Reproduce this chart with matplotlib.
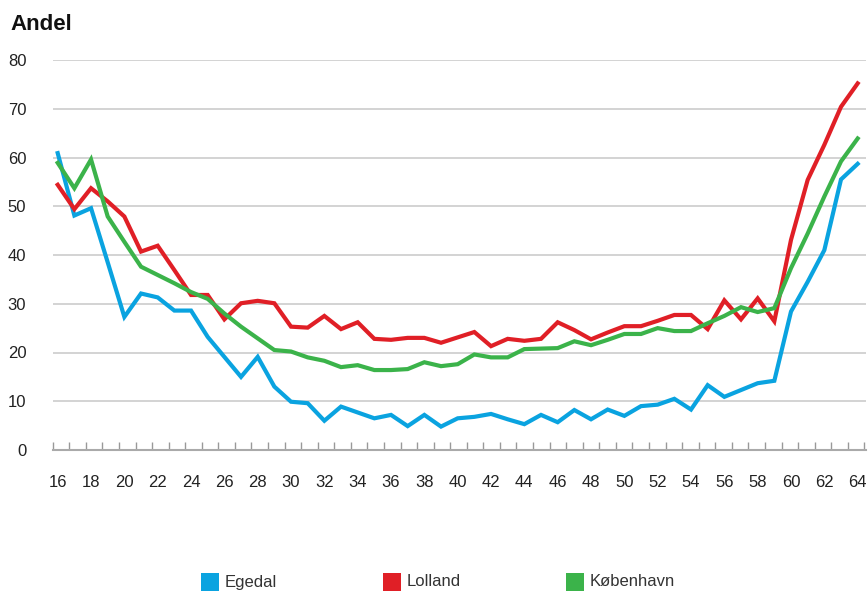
import numpy as np
import matplotlib
matplotlib.use("Agg")
import matplotlib.pyplot as plt
from matplotlib.patches import Rectangle

plt.rcParams['font.family'] = ['Liberation Sans', 'DejaVu Sans']

# alder 16-64
ages = list(range(16, 65))

egedal = [60.9, 48.1, 49.6, 38.5, 27.3, 32.1, 31.3, 28.6, 28.6, 23.2,
          19.1, 15.0, 19.1, 13.0, 9.9, 9.6, 6.0, 8.9, 7.7, 6.5,
          7.2, 4.9, 7.2, 4.8, 6.5, 6.8, 7.4, 6.3, 5.3, 7.2,
          5.7, 8.2, 6.3, 8.3, 7.0, 9.0, 9.3, 10.5, 8.3, 13.3,
          10.9, 12.3, 13.7, 14.2, 28.4, 34.5, 41.0, 55.5, 58.7]

lolland = [54.4, 49.4, 53.7, 51.0, 47.9, 40.7, 41.9, 36.9, 31.8, 31.8,
           26.8, 30.1, 30.6, 30.1, 25.3, 25.1, 27.5, 24.8, 26.2, 22.8,
           22.6, 23.0, 23.0, 22.0, 23.1, 24.2, 21.3, 22.8, 22.4, 22.8,
           26.2, 24.6, 22.7, 24.1, 25.4, 25.4, 26.5, 27.7, 27.7, 24.8,
           30.7, 26.8, 31.1, 26.4, 43.1, 55.4, 62.6, 70.4, 75.2]

kobenhavn = [58.9, 53.7, 59.6, 47.9, 42.7, 37.6, 35.9, 34.2, 32.4, 31.0,
             28.0, 25.3, 22.9, 20.5, 20.2, 19.0, 18.3, 17.0, 17.4, 16.4,
             16.4, 16.6, 18.0, 17.2, 17.6, 19.6, 19.0, 19.0, 20.7, 20.8,
             20.9, 22.3, 21.5, 22.6, 23.8, 23.8, 25.0, 24.4, 24.4, 26.0,
             27.5, 29.3, 28.3, 29.1, 37.3, 44.4, 52.0, 59.2, 63.9]

series = [("Egedal", egedal, "#0aa3e0"),
          ("Lolland", lolland, "#e01f26"),
          ("København", kobenhavn, "#3bb34a")]

W, H = 868, 592
fig = plt.figure(figsize=(W / 100, H / 100), dpi=100)
ax = fig.add_axes([52.7 / W, 1 - 450 / H, (866 - 52.7) / W, 390 / H])

for name, vals, col in series:
    ax.plot(ages, vals, color=col, lw=3.0, solid_joinstyle="miter",
            clip_on=False, zorder=3)

x0, x1 = 15.7, 64.5
ax.set_xlim(x0, x1)
ax.set_ylim(0, 80)

ax.set_yticks(range(0, 81, 10))
ax.yaxis.grid(True, color="#cccccc", lw=1.2)
ax.set_axisbelow(True)
ax.tick_params(axis="y", length=0, pad=19, labelsize=12, labelcolor="#222222")

ax.set_xticks(range(16, 65, 2))
ax.set_xticks(np.linspace(x0, x1 - 0.1, 50), minor=True)
ax.tick_params(axis="x", which="major", length=0, pad=18, labelsize=12,
               labelcolor="#222222")
ax.tick_params(axis="x", which="minor", direction="in", length=6,
               width=1, color="#999999")

for s in ["top", "right", "left"]:
    ax.spines[s].set_visible(False)
ax.spines["bottom"].set_color("#aaaaaa")
ax.spines["bottom"].set_linewidth(1.5)

fig.text(10 / W, 1 - 25 / H, "Andel", fontsize=16, fontweight="bold",
         va="center", ha="left", color="#111111")

# forklaring nederst
legend_x = [201, 383, 566]
for (name, vals, col), lx in zip(series, legend_x):
    fig.add_artist(Rectangle((lx / W, 1 - 591 / H), 18 / W, 18 / H,
                             transform=fig.transFigure, color=col, lw=0))
    fig.text((lx + 24) / W, 1 - 582 / H, name, fontsize=12,
             va="center", ha="left", color="#333333")

fig.savefig("out.png", dpi=100)
